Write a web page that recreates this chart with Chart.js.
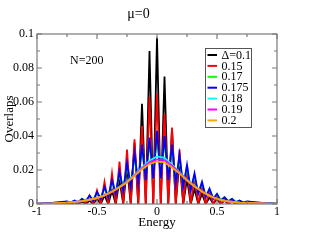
<!DOCTYPE html>
<html>
<head>
<meta charset="utf-8">
<script src="https://cdn.jsdelivr.net/npm/chart.js@4"></script>
<style>
  html, body { margin: 0; padding: 0; background: #fff; }
</style>
</head>
<body>
<canvas id="chart" width="312" height="241"></canvas>
<script>
// energy grid for the oscillating curves (peak / valley alternating)
const energyFine = [-1, -0.875,
  -0.75, -0.71875, -0.6875, -0.65625, -0.625, -0.59375, -0.5625, -0.53125,
  -0.5, -0.46875, -0.4375, -0.40625, -0.375, -0.34375, -0.3125, -0.28125,
  -0.25, -0.21875, -0.1875, -0.15625, -0.125, -0.09375, -0.0625, -0.03125,
  0, 0.03125, 0.0625, 0.09375, 0.125, 0.15625, 0.1875, 0.21875,
  0.25, 0.28125, 0.3125, 0.34375, 0.375, 0.40625, 0.4375, 0.46875,
  0.5, 0.53125, 0.5625, 0.59375, 0.625, 0.65625, 0.6875, 0.71875, 0.75,
  0.875, 1];

// energy grid for the smooth curves
const energySmooth = [-1, -0.875, -0.75, -0.6875, -0.625, -0.5625, -0.5, -0.4375,
  -0.375, -0.3125, -0.25, -0.1875, -0.125, -0.0625, 0, 0.0625, 0.125, 0.1875,
  0.25, 0.3125, 0.375, 0.4375, 0.5, 0.5625, 0.625, 0.6875, 0.75, 0.875, 1];

const delta010 = [0, 0.0003,
  0.0005, 0, 0.001, 0, 0.0015, 0, 0.002, 0, 0.003, 0, 0.005, 0, 0.008, 0,
  0.014, 0, 0.022, 0, 0.036, 0, 0.059, 0, 0.09, 0,
  0.098, 0, 0.075, 0, 0.044, 0, 0.026, 0, 0.015, 0, 0.009, 0,
  0.006, 0, 0.004, 0, 0.003, 0, 0.002, 0, 0.0015, 0, 0.001, 0, 0.0005,
  0.0003, 0];

const delta015 = [0, 0.0004,
  0.001, 0, 0.0015, 0, 0.003, 0, 0.005, 0, 0.008, 0, 0.013, 0, 0.018, 0,
  0.025, 0, 0.032, 0, 0.038, 0, 0.046, 0, 0.063, 0,
  0.065, 0, 0.053, 0, 0.045, 0, 0.032, 0, 0.023, 0, 0.016, 0,
  0.011, 0, 0.007, 0, 0.005, 0, 0.003, 0, 0.002, 0, 0.0015, 0, 0.001,
  0.0004, 0];

const delta017 = [0.0002, 0.0006,
  0.0014, 0.001, 0.002, 0.0013, 0.003, 0.0018, 0.0045, 0.0025, 0.0065, 0.0035,
  0.009, 0.005, 0.0125, 0.007, 0.017, 0.0095, 0.022, 0.012, 0.027, 0.0145,
  0.032, 0.017, 0.035, 0.018,
  0.038, 0.018, 0.036, 0.017, 0.032, 0.0145, 0.026, 0.012, 0.021, 0.0095,
  0.016, 0.007, 0.012, 0.005, 0.0085, 0.0035, 0.0055, 0.0025, 0.004, 0.0018,
  0.003, 0.0013, 0.002, 0.001, 0.0014,
  0.0006, 0.0002];

const delta0175 = [0.0002, 0.0006,
  0.0015, 0.0008, 0.002, 0.001, 0.003, 0.0015, 0.005, 0.002, 0.007, 0.003,
  0.010, 0.004, 0.014, 0.006, 0.019, 0.008, 0.024, 0.010, 0.030, 0.012,
  0.035, 0.014, 0.039, 0.015,
  0.043, 0.015, 0.040, 0.014, 0.035, 0.012, 0.029, 0.010, 0.023, 0.008,
  0.018, 0.006, 0.013, 0.004, 0.009, 0.003, 0.006, 0.002, 0.004, 0.0015,
  0.003, 0.001, 0.002, 0.0008, 0.0015,
  0.0006, 0.0002];

const delta018 = [0.0002, 0.0004, 0.0008, 0.0012, 0.0017, 0.0025, 0.0036, 0.0051,
  0.0074, 0.0101, 0.0132, 0.0172, 0.0215, 0.0255, 0.028, 0.0272, 0.0232, 0.0188,
  0.0143, 0.0106, 0.0075, 0.0049, 0.0031, 0.002, 0.0012, 0.0008, 0.0006, 0.0003, 0.0001];

const delta019 = [0.0002, 0.0004, 0.0008, 0.0012, 0.0017, 0.0025, 0.0035, 0.0051,
  0.0073, 0.0099, 0.0129, 0.0168, 0.021, 0.0245, 0.0262, 0.0258, 0.0225, 0.0184,
  0.014, 0.0104, 0.0074, 0.0048, 0.003, 0.0019, 0.0012, 0.0008, 0.0006, 0.0003, 0.0001];

const delta020 = [0.0002, 0.0004, 0.0008, 0.0012, 0.0017, 0.0025, 0.0035, 0.005,
  0.0072, 0.0098, 0.0127, 0.0165, 0.0205, 0.0235, 0.025, 0.0245, 0.0215, 0.018,
  0.0138, 0.0103, 0.0073, 0.0048, 0.003, 0.0019, 0.0012, 0.0008, 0.0006, 0.0003, 0.0001];

const seriesLabels = ['\u0394=0.1', '0.15', '0.17', '0.175', '0.18', '0.19', '0.2'];
const seriesColors = ['#000000', '#ff0000', '#00ff00', '#0000ff', '#00ffff', '#ff00ff', '#ffa500'];

const xTickValues = [-1, -0.5, 0, 0.5, 1];
const xTickLabels = ['-1', '-0.5', '0', '0.5', '1'];
const yTickValues = [0, 0.02, 0.04, 0.06, 0.08, 0.1];
const yTickLabels = ['0', '0.02', '0.04', '0.06', '0.08', '0.1'];

const serif = "'Liberation Serif', 'DejaVu Serif', serif";

const toPoints = (xs, ys) => xs.map((x, i) => ({x: x, y: ys[i]}));
const pickLabel = (vals, labels, v) => {
    const i = vals.findIndex(t => Math.abs(t - v) < 1e-9);
    return i >= 0 ? labels[i] : '';
};

const seriesData = [
    toPoints(energyFine, delta010),
    toPoints(energyFine, delta015),
    toPoints(energyFine, delta017),
    toPoints(energyFine, delta0175),
    toPoints(energySmooth, delta018),
    toPoints(energySmooth, delta019),
    toPoints(energySmooth, delta020)
];

// frame with inward ticks, legend box and the N=200 note
const decorations = {
    id: 'decorations',
    afterDraw(chart) {
        const ctx = chart.ctx;
        const a = chart.chartArea;
        const xs = chart.scales.x, ys = chart.scales.y;
        ctx.save();
        ctx.strokeStyle = '#7a7a7a';
        ctx.lineWidth = 1.2;
        ctx.strokeRect(a.left, a.top, a.right - a.left, a.bottom - a.top);
        ctx.beginPath();
        xs.ticks.forEach(t => {
            const px = xs.getPixelForValue(t.value);
            const len = pickLabel(xTickValues, xTickLabels, t.value) ? 5 : 3;
            ctx.moveTo(px, a.bottom); ctx.lineTo(px, a.bottom - len);
            ctx.moveTo(px, a.top); ctx.lineTo(px, a.top + len);
        });
        ys.ticks.forEach(t => {
            const py = ys.getPixelForValue(t.value);
            const len = pickLabel(yTickValues, yTickLabels, t.value) ? 5 : 3;
            ctx.moveTo(a.left, py); ctx.lineTo(a.left + len, py);
            ctx.moveTo(a.right, py); ctx.lineTo(a.right - len, py);
        });
        ctx.stroke();

        // legend
        ctx.strokeStyle = '#555';
        ctx.lineWidth = 1;
        ctx.strokeRect(205.5, 48.5, 46, 79);
        ctx.font = '12px ' + serif;
        ctx.textBaseline = 'middle';
        ctx.fillStyle = '#000';
        seriesLabels.forEach((lab, i) => {
            const y = 55 + i * 10.9;
            ctx.strokeStyle = seriesColors[i];
            ctx.lineWidth = 2;
            ctx.beginPath();
            ctx.moveTo(207.5, y); ctx.lineTo(217, y);
            ctx.stroke();
            ctx.fillText(lab, 221.5, y + 0.5);
        });

        ctx.font = '12px ' + serif;
        ctx.fillText('N=200', 70, 61);
        ctx.restore();
    }
};

const ctx = document.getElementById('chart');

new Chart(ctx, {
    type: 'line',
    data: {
        datasets: seriesData.map((d, i) => ({
            label: seriesLabels[i],
            data: d,
            borderColor: seriesColors[i],
            backgroundColor: seriesColors[i],
            borderWidth: 1.8,
            pointRadius: 0,
            tension: 0,
            fill: false,
            order: seriesData.length - i
        }))
    },
    options: {
        responsive: false,
        animation: false,
        layout: { padding: { left: 0, right: 35, top: 0, bottom: 0 } },
        plugins: {
            legend: { display: false },
            tooltip: { enabled: false },
            title: {
                display: true,
                text: '\u03bc=0',
                color: '#000',
                font: { family: serif, size: 14, weight: 'normal' },
                padding: { top: 6.2, bottom: 11 }
            }
        },
        scales: {
            x: {
                type: 'linear',
                min: -1,
                max: 1,
                afterFit: s => { s.height = 37; },
                grid: { display: false, drawTicks: false },
                border: { display: false },
                ticks: {
                    stepSize: 0.25,
                    autoSkip: false,
                    maxRotation: 0,
                    padding: 1,
                    color: '#000',
                    font: { family: serif, size: 12 },
                    callback: v => pickLabel(xTickValues, xTickLabels, v)
                },
                title: {
                    display: true,
                    text: 'Energy',
                    color: '#000',
                    font: { family: serif, size: 13 },
                    padding: { top: 0, bottom: 10.5 }
                }
            },
            y: {
                min: 0,
                max: 0.1,
                afterFit: s => { s.width = 37; },
                grid: { display: false, drawTicks: false },
                border: { display: false },
                ticks: {
                    stepSize: 0.01,
                    autoSkip: false,
                    padding: 3,
                    color: '#000',
                    font: { family: serif, size: 12 },
                    callback: v => pickLabel(yTickValues, yTickLabels, v)
                },
                title: {
                    display: true,
                    text: 'Overlaps',
                    color: '#000',
                    font: { family: serif, size: 13 },
                    padding: { top: 2, bottom: 0 }
                }
            }
        }
    },
    plugins: [decorations]
});
</script>
</body>
</html>
